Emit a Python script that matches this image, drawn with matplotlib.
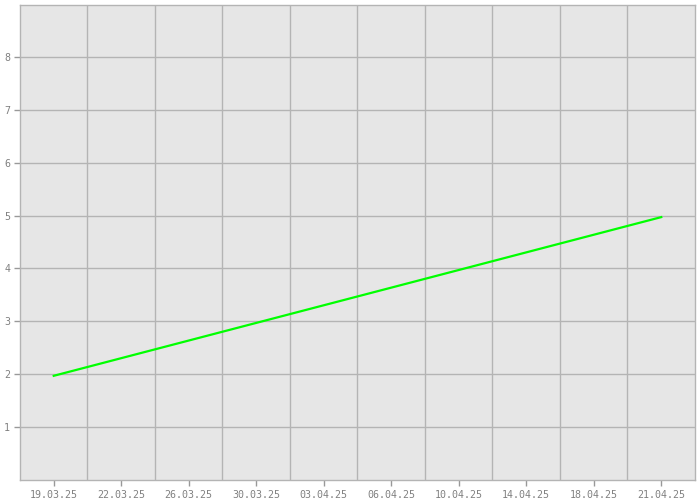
import matplotlib
matplotlib.use("Agg")
import matplotlib.pyplot as plt
import numpy as np
from datetime import date

# data
dates = [date(2025, 3, 19), date(2025, 4, 21)]
values = [1.97, 4.97]
tick_labels = ["19.03.25", "22.03.25", "26.03.25", "30.03.25", "03.04.25",
               "06.04.25", "10.04.25", "14.04.25", "18.04.25", "21.04.25"]
y_ticks = [1, 2, 3, 4, 5, 6, 7, 8]

start = dates[0]
xdays = [(d - start).days for d in dates]
span = xdays[-1]
n = len(tick_labels)
step = span / (n - 1)
tick_pos = [i * step for i in range(n)]
grid_pos = [(i + 0.5) * step for i in range(n - 1)]

fig = plt.figure(figsize=(7, 5), dpi=100)
ax = fig.add_axes([20 / 700, 20 / 500, 675 / 700, 475 / 500])
ax.set_facecolor("#e6e6e6")

for g in grid_pos:
    ax.axvline(g, color="#b4b4b4", lw=1.0, zorder=1)
for y in y_ticks:
    ax.axhline(y, color="#b4b4b4", lw=1.0, zorder=1)

ax.plot(xdays, values, color="#00ff00", lw=1.6, zorder=3)

ax.set_xlim(-0.5 * step, span + 0.5 * step)
ax.set_ylim(0, 8.98)
ax.set_xticks(tick_pos)
ax.set_xticklabels(tick_labels)
ax.set_yticks(y_ticks)
ax.set_yticklabels([str(v) for v in y_ticks])
ax.tick_params(axis="both", direction="out", length=4, width=1, color="#999999",
               labelcolor="#808080", labelsize=7.2, pad=3)
for lab in ax.get_xticklabels() + ax.get_yticklabels():
    lab.set_family("DejaVu Sans Mono")
for s in ax.spines.values():
    s.set_color("#b4b4b4")
    s.set_linewidth(1.0)

fig.savefig("out.png", dpi=100, facecolor="white")
